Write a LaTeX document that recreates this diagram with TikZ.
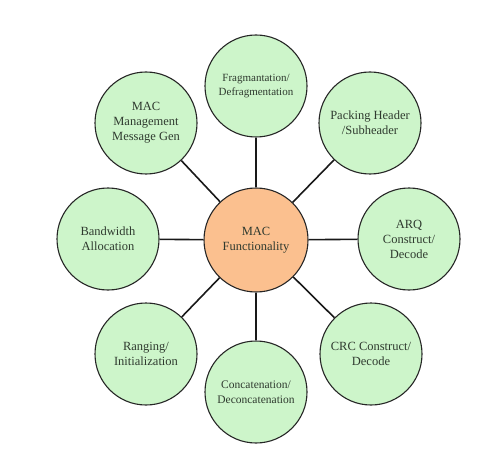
\documentclass[tikz,border=0pt]{standalone}
\usepackage{fontspec}
\setmainfont{Liberation Serif}
\definecolor{leaf}{HTML}{CDF5CA}
\definecolor{peach}{HTML}{FBC08F}
\definecolor{ink}{HTML}{2F3A2F}
\begin{document}
\begin{tikzpicture}[x=1pt,y=-1pt,
  bubble/.style={circle,draw=black!85,line width=1.1pt,fill=leaf,minimum size=102pt,inner sep=0pt,
     align=center,text=ink,font=\fontsize{12.5}{15}\selectfont},
  hub/.style={bubble,fill=peach,minimum size=104pt},
  spoke/.style={line width=1.6pt,black!90}]
\useasboundingbox (0,0) rectangle (502,454);
\node[hub] (c) at (256,240) {MAC\\Functionality};
\node[bubble,font=\fontsize{11}{14}\selectfont] (fr) at (256,86) {Fragmantation/\\Defragmentation};
\node[bubble] (mm) at (146,123) {MAC\\Management\\Message Gen};
\node[bubble] (ph) at (370,123) {Packing Header\\/Subheader};
\node[bubble] (bw) at (108,239) {Bandwidth\\Allocation};
\node[bubble] (arq) at (409,239) {ARQ\\Construct/\\Decode};
\node[bubble] (rg) at (146,354) {Ranging/\\Initialization};
\node[bubble] (crc) at (371,354) {CRC Construct/\\Decode};
\node[bubble,font=\fontsize{11.5}{14.5}\selectfont] (cc) at (256,392) {Concatenation/\\Deconcatenation};
\foreach \n in {fr,mm,ph,bw,arq,rg,crc,cc}
  \draw[spoke] (c) -- (\n);
\end{tikzpicture}
\end{document}
